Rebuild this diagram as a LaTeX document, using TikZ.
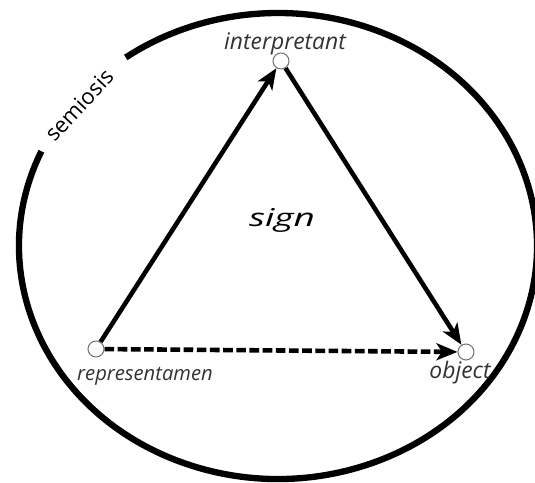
\documentclass[tikz,border=0pt]{standalone}
\usepackage{fontspec}
\setmainfont{Open Sans}
\usetikzlibrary{arrows.meta,positioning}

\begin{document}
\begin{tikzpicture}[
    x=0.02cm, y=-0.02cm,
    vertex/.style={draw=black!55, fill=white, circle, inner sep=0pt, minimum size=0.32cm, line width=0.6pt},
    label/.style={font=\itshape\fontsize{13}{15}\selectfont, text=black!80, anchor=base, inner sep=0pt},
    arrow/.style={-{Stealth[length=4.2mm, width=3.4mm, inset=1.1mm]}, line width=2.6pt}
]
    \useasboundingbox (0,0) rectangle (535,483);

    % semiosis
    \draw[line width=3.6pt] (278,246) ++(-156:259 and 233) arc[start angle=-156, end angle=-486, x radius=259, y radius=233];
    \node[rotate=47, font=\fontsize{12.5}{14}\selectfont, inner sep=0pt] (semiosis) at (79,105) {semiosis};

    % corners
    \node[vertex] (int) at (281,61) {};
    \node[vertex] (rep) at (96,349) {};
    \node[vertex] (obj) at (466,352) {};

    % labels
    \node[label] (intlab) at (285,50) {interpretant};
    \node[label, font=\itshape\fontsize{11.5}{13}\selectfont] (replab) at (145,380) {representamen};
    \node[label] (objlab) at (460,378) {object};
    \node[label, font=\itshape\fontsize{14}{16}\selectfont, text=black] (sign) at (282,227) {\scalebox{1.5}[1]{sign}};

    % arrows
    \draw[arrow] (rep) -- (int);
    \draw[arrow] (int) -- (obj);
    \draw[arrow, dash pattern=on 5.5pt off 2pt] (rep) -- (obj);
\end{tikzpicture}
\end{document}
